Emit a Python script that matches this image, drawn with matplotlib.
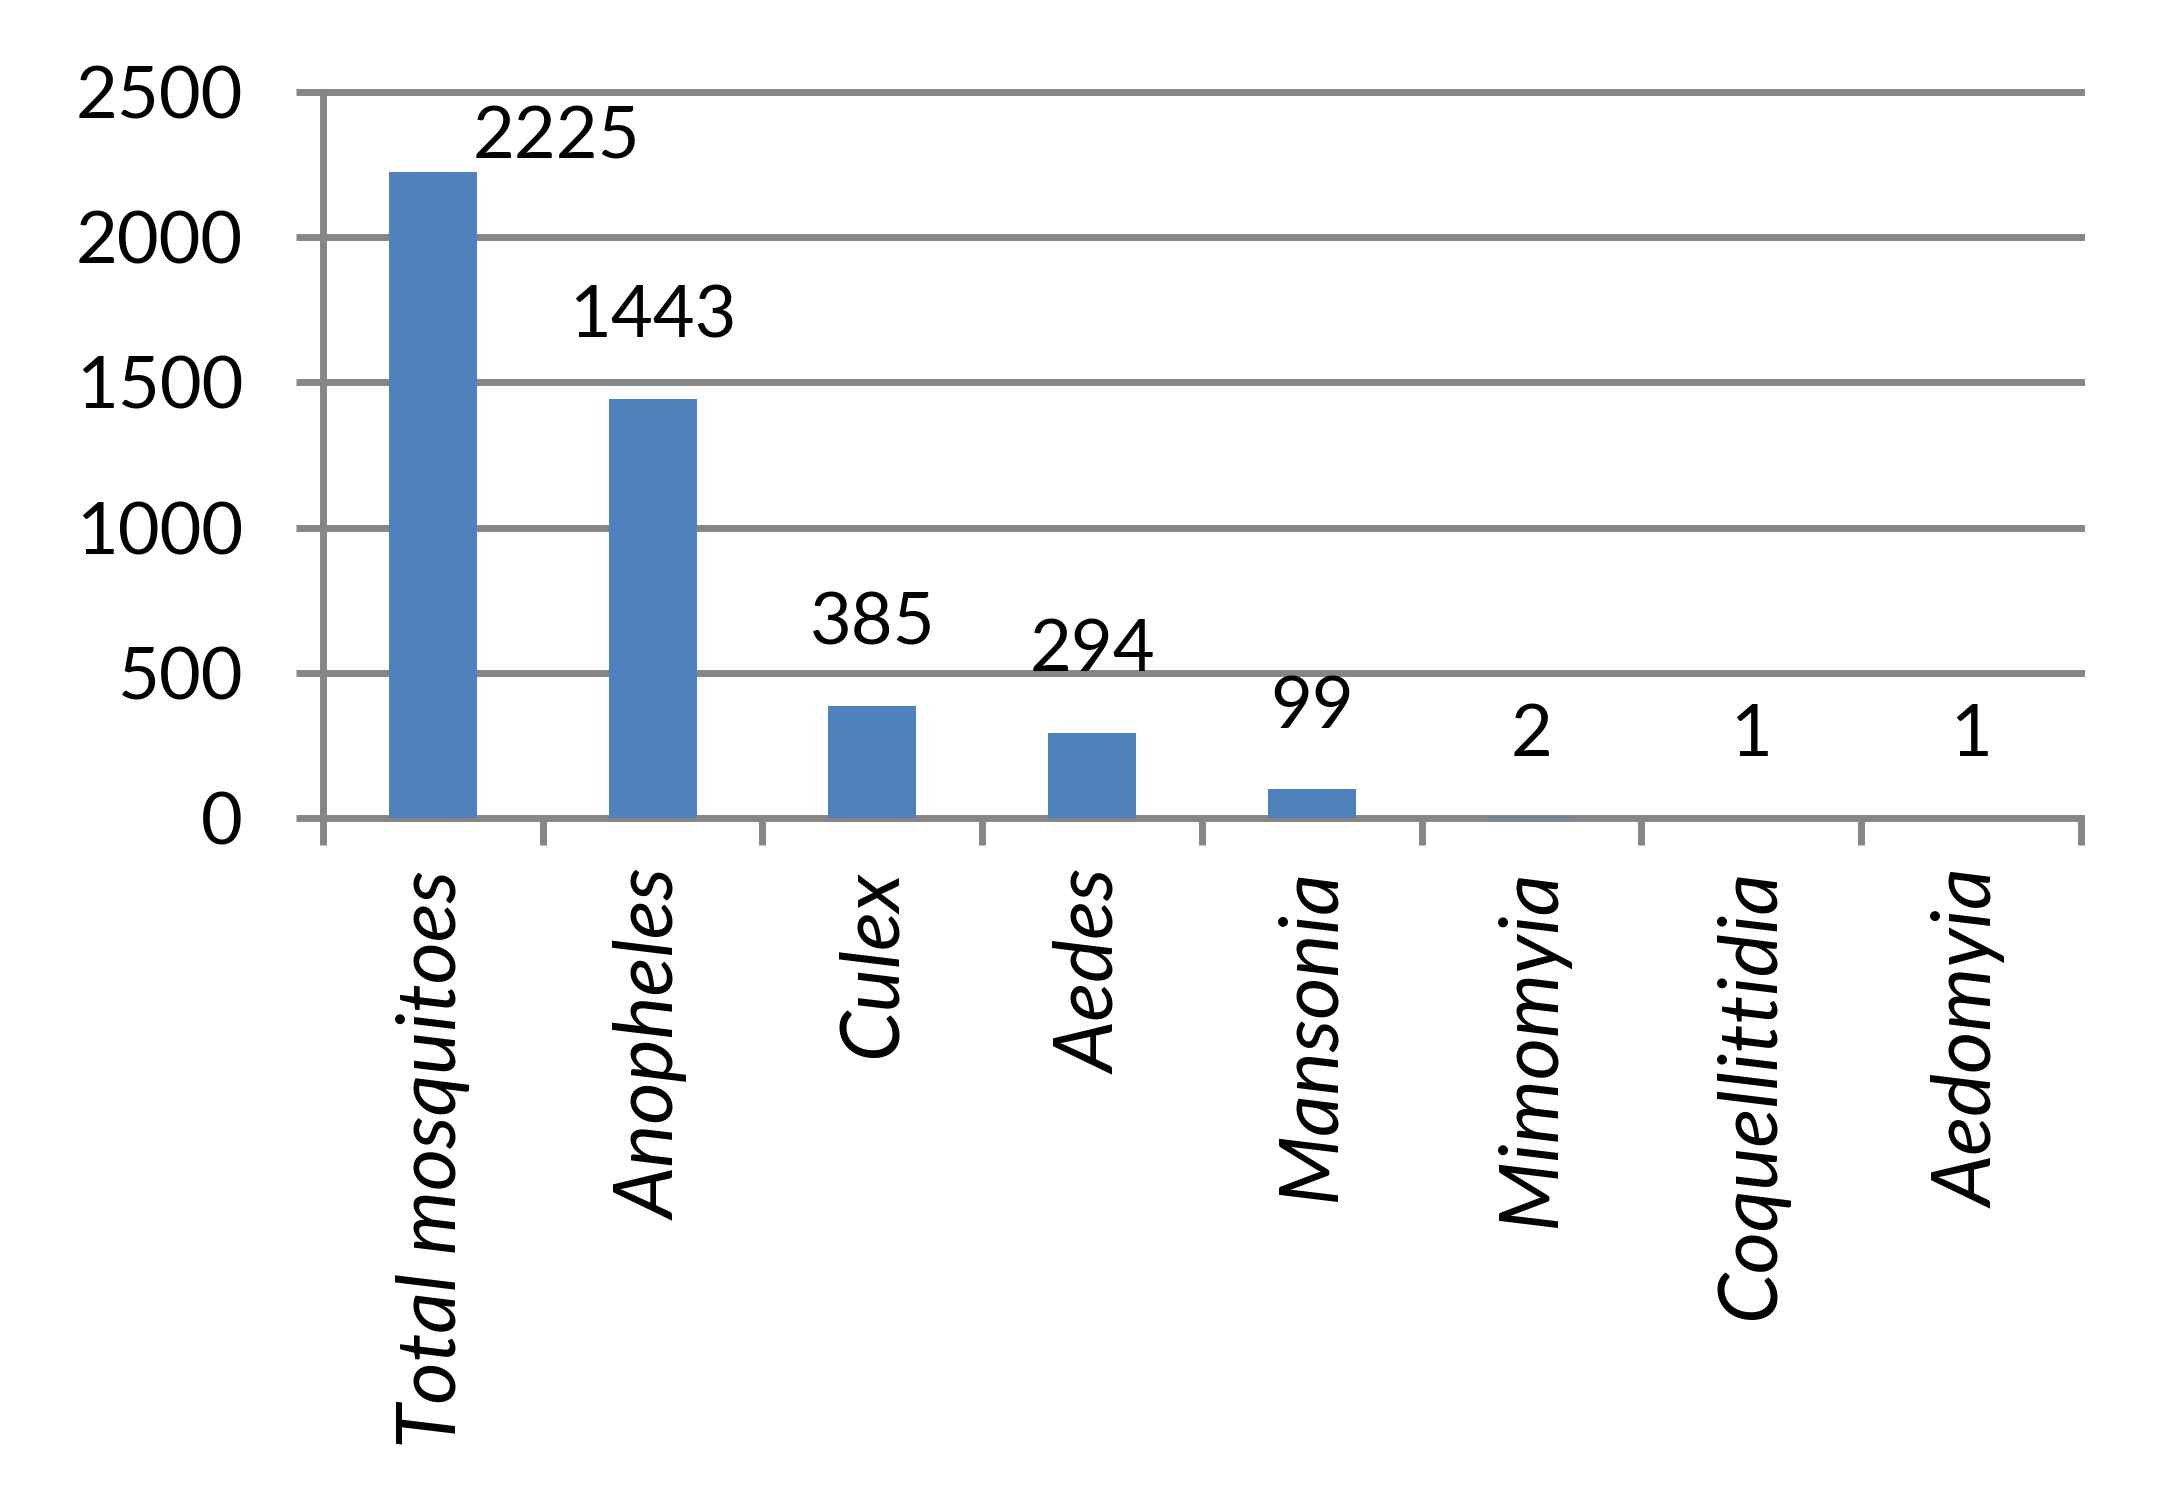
import numpy as np
import matplotlib
matplotlib.use("Agg")
import matplotlib.pyplot as plt

genera = ["Total mosquitoes", "Anopheles", "Culex", "Aedes", "Mansonia",
          "Mimomyia", "Coquellittidia", "Aedomyia"]
counts = [2225, 1443, 385, 294, 99, 2, 1, 1]
yticks = [0, 500, 1000, 1500, 2000, 2500]

plt.rcParams['font.family'] = ['Lato', 'DejaVu Sans']

grey = '#868686'
blue = '#4F81BD'
lw = 5

fig = plt.figure(figsize=(21.82, 14.9), dpi=100)
ax = fig.add_axes([0.148, 0.451, 0.8057, 0.4873])

x = np.arange(len(genera))
ax.bar(x, counts, width=0.4, color=blue, zorder=2)

ax.set_xlim(-0.5, len(genera) - 0.5)
ax.set_ylim(0, 2500)

# horizontal gridlines (not clipped so the top one keeps full width)
for v in yticks[1:]:
    ax.axhline(v, color=grey, lw=lw, clip_on=False, zorder=0)

for side in ['top', 'right']:
    ax.spines[side].set_visible(False)
for side in ['left', 'bottom']:
    ax.spines[side].set_color(grey)
    ax.spines[side].set_linewidth(lw)
    ax.spines[side].set_zorder(1)

ax.set_yticks(yticks)
ax.tick_params(axis='y', direction='out', length=19.5, width=lw, color=grey,
               labelsize=52, pad=38)

# category labels at the centres, tick marks at the boundaries
ax.set_xticks(x)
ax.set_xticklabels(genera, rotation=90, fontstyle='italic', fontsize=58.5,
                   ha='center', va='top')
ax.tick_params(axis='x', which='major', length=0, pad=37)
ax.set_xticks(np.arange(-0.5, len(genera)), minor=True)
ax.tick_params(axis='x', which='minor', direction='out', length=19.5,
               width=lw, color=grey)

# value labels above the bars, the first one nudged right of its bar
for i, c in enumerate(counts):
    off = (89, 24) if i == 0 else (0, 59)
    ax.annotate(str(c), (x[i], c), xytext=off, textcoords='offset points',
                ha='center', va='center', fontsize=52, annotation_clip=False)

fig.savefig('out.png', dpi=100)
